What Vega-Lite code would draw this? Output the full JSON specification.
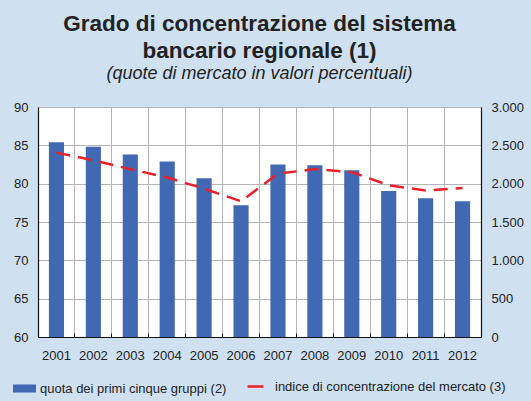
{
  "$schema": "https://vega.github.io/schema/vega-lite/v6.json",
  "width": 443,
  "height": 230,
  "autosize": "none",
  "padding": {"left": 38, "top": 107, "right": 50, "bottom": 64},
  "background": "#cfe0f1",
  "view": {"stroke": null, "fill": "white"},
  "config": {
    "font": "Liberation Sans",
    "axis": {"labelFont": "Liberation Sans", "labelColor": "#222", "labelFontSize": 13},
    "legend": {"labelFont": "Liberation Sans", "labelColor": "#222", "labelFontSize": 13, "labelLimit": 400}
  },
  "title": {
    "text": ["Grado di concentrazione del sistema", "bancario regionale (1)"],
    "subtitle": "(quote di mercato in valori percentuali)",
    "anchor": "middle",
    "fontSize": 22.5,
    "lineHeight": 27,
    "fontWeight": "bold",
    "color": "#222",
    "subtitleFontSize": 18,
    "subtitleFontStyle": "italic",
    "subtitleColor": "#222",
    "subtitlePadding": 3,
    "offset": 18
  },
  "data": {
    "values": [
      {"year": "2001", "quota": 85.4, "indice": 2405},
      {"year": "2002", "quota": 84.8, "indice": 2305},
      {"year": "2003", "quota": 83.8, "indice": 2190},
      {"year": "2004", "quota": 82.9, "indice": 2080},
      {"year": "2005", "quota": 80.7, "indice": 1935},
      {"year": "2006", "quota": 77.2, "indice": 1770},
      {"year": "2007", "quota": 82.5, "indice": 2130},
      {"year": "2008", "quota": 82.4, "indice": 2190},
      {"year": "2009", "quota": 81.75, "indice": 2150},
      {"year": "2010", "quota": 79.05, "indice": 1980},
      {"year": "2011", "quota": 78.1, "indice": 1910},
      {"year": "2012", "quota": 77.7, "indice": 1945}
    ]
  },
  "encoding": {
    "x": {
      "field": "year",
      "type": "ordinal",
      "scale": {"type": "band", "paddingInner": 0, "paddingOuter": 0},
      "axis": {
        "title": null,
        "labelAngle": 0,
        "bandPosition": 0,
        "labelOffset": 0,
        "grid": true,
        "gridColor": "#b4b4b4",
        "gridWidth": 1,
        "domainColor": "#111",
        "domainWidth": 1.2,
        "ticks": true,
        "tickSize": -4,
        "tickColor": "#111",
        "labelPadding": 16
      }
    }
  },
  "layer": [
    {
      "mark": {"type": "bar", "width": {"band": 0.41}, "clip": true},
      "encoding": {
        "y": {
          "field": "quota",
          "type": "quantitative",
          "scale": {"domain": [60, 90], "zero": false, "nice": false},
          "axis": {
            "title": null,
            "values": [60, 65, 70, 75, 80, 85, 90],
            "grid": true,
            "gridColor": "#b4b4b4",
            "ticks": false,
            "labelPadding": 10,
            "domainColor": "#111",
            "domainWidth": 1.2
          }
        },
        "fill": {
          "datum": "quota dei primi cinque gruppi (2)",
          "type": "nominal",
          "scale": {"range": ["#4169b3"]},
          "legend": {
            "title": null,
            "orient": "none",
            "legendX": -25,
            "legendY": 270,
            "symbolType": "M-1,-0.35H1V0.35H-1Z",
            "symbolSize": 529,
            "symbolStrokeWidth": 0,
            "labelOffset": 4
          }
        }
      }
    },
    {
      "mark": {"type": "line", "strokeWidth": 2.5, "strokeDash": [14, 8]},
      "encoding": {
        "y": {
          "field": "indice",
          "type": "quantitative",
          "scale": {"domain": [0, 3000], "nice": false},
          "axis": {
            "title": null,
            "orient": "right",
            "values": [0, 500, 1000, 1500, 2000, 2500, 3000],
            "labelExpr": "replace(format(datum.value, ','), ',', '.')",
            "grid": false,
            "ticks": false,
            "labelPadding": 10,
            "domainColor": "#111",
            "domainWidth": 1.2
          }
        },
        "stroke": {
          "datum": "indice di concentrazione del mercato (3)",
          "type": "nominal",
          "scale": {"range": ["#e8202a"]},
          "legend": {
            "title": null,
            "orient": "none",
            "legendX": 208,
            "legendY": 270,
            "symbolType": "stroke",
            "symbolSize": 256,
            "symbolStrokeWidth": 2.5,
            "symbolDash": [],
            "labelOffset": 10
          }
        }
      }
    }
  ],
  "resolve": {"scale": {"y": "independent"}}
}
